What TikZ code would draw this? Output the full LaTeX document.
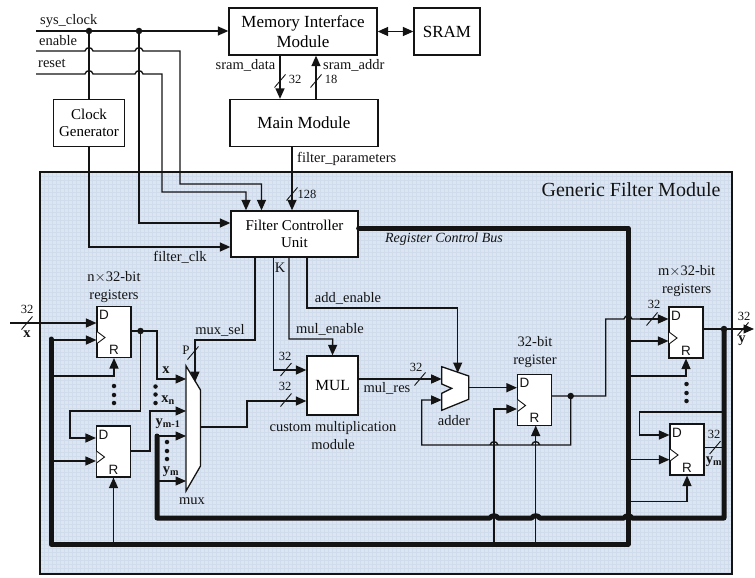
\documentclass[tikz,border=0pt]{standalone}
\usepackage{fontspec}
\setmainfont{Liberation Serif}
\newfontfamily\dfont{Liberation Sans}
\usetikzlibrary{arrows.meta}
\definecolor{bgblue}{RGB}{220,230,241}
\definecolor{gridblue}{RGB}{208,220,236}
\definecolor{ink}{RGB}{20,20,20}
\newcommand{\hop}[3]{-- ({#1-4},#2) .. controls ({#1-3},{#2-#3}) and ({#1+3},{#2-#3}) .. ({#1+4},#2)}
\tikzset{
  x=1pt,y=-1pt,
  wire/.style={draw=ink,line width=1.35pt,line join=miter},
  awire/.style={wire,-{Triangle[length=10.5pt,width=9pt]}},
  dwire/.style={wire,{Triangle[length=10.5pt,width=9pt]}-{Triangle[length=10.5pt,width=9pt]}},
  bus/.style={draw=ink,line width=5pt,line cap=round,line join=round},
  blockbox/.style={draw=ink,line width=1.3pt,fill=white,align=center,inner sep=0pt,font=\fontsize{17}{20}\selectfont},
  regbox/.style={draw=ink,line width=1.1pt,fill=white,inner sep=0pt,minimum width=34pt,minimum height=51pt},
  lab/.style={inner sep=0pt,font=\fontsize{14.5}{17.5}\selectfont,align=center,text=ink},
  ulab/.style={lab,yshift=-1.5pt},
  num/.style={inner sep=0pt,font=\fontsize{12.5}{14}\selectfont,text=ink},
  bold/.style={inner sep=0pt,font=\fontsize{14.5}{16}\selectfont\bfseries,text=ink},
  pin/.style={inner sep=0pt,font=\dfont\fontsize{13.5}{14}\selectfont,text=ink},
  dotmark/.style={circle,fill=ink,inner sep=0pt,minimum size=6.5pt},
  vdot/.style={circle,fill=ink,inner sep=0pt,minimum size=4.5pt},
  slash/.style={draw=ink,line width=0.9pt},
}
\newcommand{\slashat}[2]{\draw[slash] ({#1-5.5},{#2+6.5}) -- ({#1+5.5},{#2-6.5});}
\newcommand{\regpins}[3]{%
  \node[pin] at ({#1-10},{#2-17}) {D};
  \node[pin] at (#1,{#2+18}) {R};
  \draw[draw=ink,line width=0.9pt,fill=white] ({#1-17},{#2-0.5}) -- ({#1-9},{#2+5.5}) -- ({#1-17},{#2+11.5});}
\begin{document}
\begin{tikzpicture}
\useasboundingbox (0,0) rectangle (755,578);
\fill[white] (0,0) rectangle (755,578);
% filter module background
\fill[bgblue] (40,172) rectangle (732,574);
\begin{scope}
\clip (40,172) rectangle (732,574);
\foreach \gx in {40,44,...,732} \draw[gridblue,line width=0.35pt] (\gx,172) -- (\gx,574);
\foreach \gy in {172,176,...,574} \draw[gridblue,line width=0.35pt] (40,\gy) -- (732,\gy);
\end{scope}
\draw[draw=ink,line width=1.1pt] (40,172) rectangle (732,574);
\node[inner sep=0pt,font=\fontsize{20}{24}\selectfont,text=ink] (title) at (631,190) {Generic Filter Module};

% blocks
\node[blockbox,minimum width=148pt,minimum height=47pt] (mem) at (303,31.5) {Memory Interface\\Module};
\node[blockbox,minimum width=66pt,minimum height=47pt] (sram) at (447,31.5) {SRAM};
\node[blockbox,minimum width=148pt,minimum height=47pt] (main) at (304,123) {Main Module};
\node[blockbox,minimum width=71pt,minimum height=47pt,font=\fontsize{15}{17.5}\selectfont] (clk) at (89,123) {Clock\\Generator};
\node[blockbox,minimum width=127pt,minimum height=46pt,font=\fontsize{15}{17.5}\selectfont] (fcu) at (294.5,234) {Filter Controller\\Unit};
\node[blockbox,minimum width=51pt,minimum height=59pt,font=\fontsize{15.5}{18}\selectfont] (mul) at (332.5,385.5) {MUL};

% free ends
\coordinate (inclk) at (36,31);
\coordinate (inen) at (36,51);
\coordinate (inrst) at (36,74);
\coordinate (inx) at (10,323);
\coordinate (outy) at (754,329);
\coordinate (j1) at (89,31);
\coordinate (j2) at (139,31);

% registers
\node[regbox] (r1) at (114,332) {};
\node[regbox] (r2) at (113.5,451.5) {};
\node[regbox] (r3) at (534.5,400) {};
\node[regbox] (m1) at (686,332.5) {};
\node[regbox] (m2) at (687,449.5) {};
\regpins{114}{332}{}
\regpins{113.5}{451.5}{}
\regpins{534.5}{400}{}
\regpins{686}{332.5}{}
\regpins{687}{449.5}{}

% mux and adder
\draw[draw=ink,line width=1.3pt,fill=white,line join=miter] (186,366) -- (200.5,390) -- (200.5,466) -- (186,491) -- cycle;
\draw[draw=ink,line width=1.3pt,fill=white,line join=miter] (441.7,366.7) -- (468.7,376) -- (468.7,399.3) -- (441.7,410.3) -- (441.7,393.3) -- (451.7,388.3) -- (441.7,384) -- cycle;
\coordinate (muxa) at (186,379);
\coordinate (muxb) at (186,411);
\coordinate (muxc) at (186,436);
\coordinate (muxd) at (186,481);
\coordinate (muxs) at (195,382);
\coordinate (muxo) at (200.5,427);
\coordinate (adda) at (441.7,379);
\coordinate (addb) at (441.7,400);
\coordinate (adds) at (457.7,373);
\coordinate (addo) at (468.7,387.7);

% top signals
\draw[awire] (inclk) -- (mem.west|-inclk);
\node[dotmark] at (j1) {};
\node[dotmark] at (j2) {};
\draw[wire] (j1) -- (clk.north);
\draw[awire] (clk.south) |- (fcu.west|-0,247);
\draw[awire] (j2) |- (fcu.west|-0,223);
\draw[awire] (inen) \hop{89}{51}{4.5} \hop{139}{51}{4.5} -- (180,51) -- (180,184) -- (261.5,184) -- (fcu.north-|261.5,0);
\draw[awire] (inrst) \hop{89}{74}{4.5} \hop{139}{74}{4.5} -- (162,74) -- (162,192) -- (246,192) -- (fcu.north-|246,0);
\draw[dwire] (mem.east) -- (sram.west);
\draw[awire] (mem.south-|280,0) -- (main.north-|280,0);
\draw[awire] (main.north-|316,0) -- (mem.south-|316,0);
\draw[awire] (main.south-|292,0) -- (fcu.north-|292,0);
\slashat{280}{81}
\slashat{316}{81}
\slashat{292}{194}

% top labels
\node[ulab,anchor=west] at (40,20) {sys\_clock};
\node[lab,anchor=west] at (39,41) {enable};
\node[lab,anchor=west] at (38,63) {reset};
\node[ulab,anchor=east] at (275.5,64) {sram\_data};
\node[ulab,anchor=west] at (323,64) {sram\_addr};
\node[num] at (295,79.5) {32};
\node[num] at (331,79.5) {18};
\node[ulab,anchor=west] at (297,157) {filter\_parameters};
\node[num] at (307,194.5) {128};
\node[ulab] at (180,256) {filter\_clk};
\node[inner sep=0pt,font=\fontsize{14}{16}\selectfont\itshape,text=ink] at (444,239) {Register Control Bus};

% control bus
\draw[bus] (fcu.east|-0,228) -- (628,228) -- (628,544) -- (51,544) -- (51,339);
\draw[bus] (157,436) -- (157,518) \hop{494}{518}{3} \hop{535.7}{518}{3} \hop{628}{518}{3} -- (724,518) -- (724,329);

% FCU outputs
\draw[awire] (fcu.south-|255,0) -- (255,340) -- (195,340) -- (muxs);
\draw[awire] (fcu.south-|273.5,0) -- (273.5,370) -- (mul.west|-0,370);
\draw[awire] (fcu.south-|289,0) -- (289,339) -- (332.7,339) -- (mul.north);
\draw[awire] (fcu.south-|307,0) -- (307,308) -- (457.7,308) -- (adds);
\node[lab] at (280,268) {K};
\node[ulab] at (220,329) {mux\_sel};
\node[ulab] at (348,297) {add\_enable};
\node[ulab] at (330,328) {mul\_enable};
\node[num,font=\fontsize{13}{14}\selectfont] at (186,350) {P};
\slashat{193}{353}
\node[num] at (285,356.5) {32};
\slashat{286}{369.5}
\node[num] at (285,386.5) {32};
\slashat{286}{400}

% left registers
\draw[awire] (inx) -- (r1.west|-inx);
\slashat{27}{323}
\node[num] at (27,309) {32};
\node[bold] at (27,334) {x};
\draw[awire] (51,340) -- (r1.west|-0,340);
\draw[awire] (51,376) -- (114,376) -- (r1.south);
\node[vdot] at (114,386) {};
\node[vdot] at (114,395) {};
\node[vdot] at (114,403) {};
\draw[awire] (r1.east|-0,331) -- (157,331) -- (157,379) -- (muxa);
\node[dotmark] (j3) at (140.5,331) {};
\draw[awire] (j3) -- (140.5,411) -- (70,411) -- (70,438) -- (r2.west|-0,438);
\draw[awire] (51,461) -- (r2.west|-0,461);
\draw[awire] (r2.south|-0,544) -- (r2.south);
\draw[awire] (r2.east|-0,451) -- (150,451) -- (150,411) -- (muxb);
\draw[awire] (157,436) -- (muxc);
\draw[awire] (157,481) -- (muxd);
\node[vdot] at (155.5,386.5) {};
\node[vdot] at (155.5,394.5) {};
\node[vdot] at (155.5,403) {};
\node[vdot] at (167,442) {};
\node[vdot] at (167,451) {};
\node[vdot] at (167,459) {};
\node[bold] at (166,370) {x};
\node[bold] at (168,400) {x\textsubscript{n}};
\node[bold] at (168,424) {y\textsubscript{m-1}};
\node[bold] at (171,472) {y\textsubscript{m}};
\node[lab] at (192,501) {mux};
\node[lab] at (114,287) {n$\times$32-bit\\registers};

% middle
\draw[awire] (muxo) -- (247,427) -- (247,401) -- (mul.west|-0,401);
\draw[awire] (mul.east|-0,379) -- (adda);
\slashat{420}{379}
\node[num] at (416,367) {32};
\node[ulab] at (387,387) {mul\_res};
\node[lab] at (333,435.5) {custom multiplication\\module};
\node[lab] at (454,421) {adder};
\draw[awire] (addo) -- (r3.west|-addo);
\draw[awire] (570.7,396) -- (570.7,445) \hop{535.7}{445}{4.5} \hop{494}{445}{4.5} -- (421.7,445) -- (421.7,400) -- (addb);
\draw[awire] (494,544) -- (494,409) -- (r3.west|-0,409);
\draw[awire] (535.7,544) -- (535.7,425.5);
\node[lab] at (535,352) {32-bit\\register};
\draw[wire] (r3.east|-0,396) -- (605.7,396) -- (605.7,319) \hop{628}{319}{4.5} -- (640,319);
\draw[awire] (640,319) -- (m1.west|-0,319);
\node[dotmark] at (570.7,396) {};
\slashat{652}{319}
\node[num] at (654,304) {32};

% right registers
\draw[awire] (628,341) -- (m1.west|-0,341);
\draw[awire] (628,376) -- (686,376) -- (m1.south);
\node[vdot] at (686.5,384) {};
\node[vdot] at (686.5,393) {};
\node[vdot] at (686.5,401) {};
\draw[awire] (m1.east|-0,329) -- (outy);
\node[dotmark] at (724,329) {};
\slashat{743}{329}
\node[num] at (744,316) {32};
\node[bold] at (742,341) {y};
\draw[awire] (724,412) -- (639.7,412) -- (639.7,435) -- (m2.west|-0,435);
\draw[awire] (628,459.7) -- (m2.west|-0,459.7);
\draw[awire] (628,501.7) -- (687,501.7) -- (m2.south);
\draw[wire] (m2.east|-0,447.7) -- (724,447.7);
\slashat{715}{447.7}
\node[num] at (714,434) {32};
\node[bold] at (714,462) {y\textsubscript{m}};
\node[lab] at (686.7,281) {m$\times$32-bit\\registers};
\end{tikzpicture}
\end{document}
